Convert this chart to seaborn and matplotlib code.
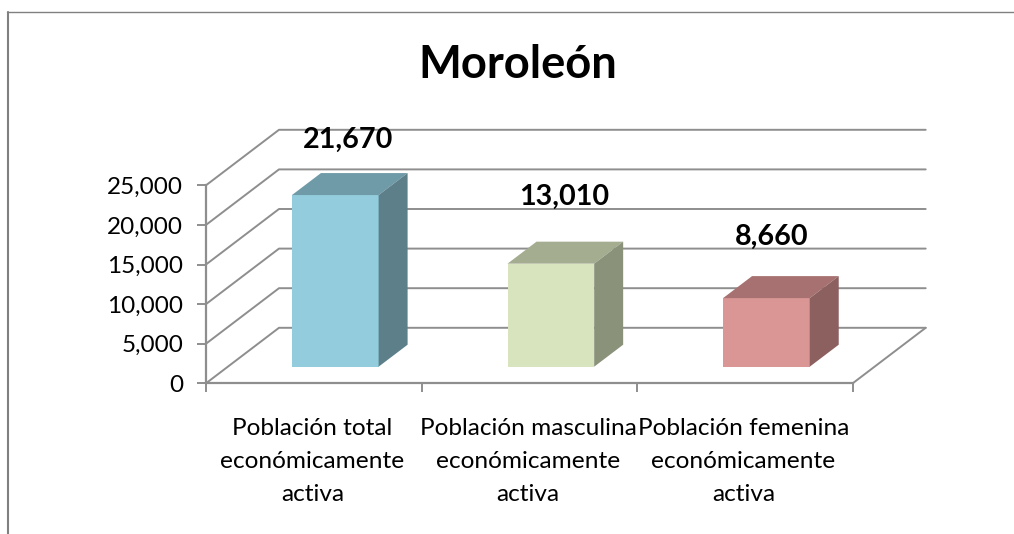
import matplotlib
matplotlib.use("Agg")
import matplotlib.pyplot as plt
from matplotlib.lines import Line2D
import pandas as pd
import seaborn as sns

# Data
categories = ["Población total\neconómicamente\nactiva",
              "Población masculina\neconómicamente\nactiva",
              "Población femenina\neconómicamente\nactiva"]
values = [21670, 13010, 8660]
value_labels = ["21,670", "13,010", "8,660"]
y_ticks = [0, 5000, 10000, 15000, 20000, 25000]
y_tick_labels = ["0", "5,000", "10,000", "15,000", "20,000", "25,000"]

# Colours per bar
front_colors = ["#93CDDD", "#D7E4BD", "#D99694"]
top_colors = ["#6F9AA7", "#A4AD90", "#A67170"]
side_colors = ["#5C7F8A", "#8A927A", "#8C605F"]
line_color = "#8E8E8E"

df = pd.DataFrame({"cat": categories, "val": values})

sns.set_style("white")
plt.rcParams["font.family"] = ["Lato", "DejaVu Sans"]

W, H = 1014, 534
fig = plt.figure(figsize=(W / 100, H / 100), dpi=100)

# Axes box is the front face of the fake 3D chart
left, right, top, bottom = 206, 852.7, 185.3, 383.3
ax = fig.add_axes([left / W, 1 - bottom / H, (right - left) / W, (bottom - top) / H])

sns.barplot(data=df, x="cat", y="val", hue="cat", palette=front_colors, saturation=1,
            width=0.402, dodge=False, legend=False, ax=ax, zorder=3, linewidth=0)

ax.set_xlim(-0.5, 2.5)
ax.set_ylim(0, 25000)

# Oblique depth, in data units
wall_dx, wall_dy = 0.3386, 7008
bar_shift_x, bar_base = 0.0997, 2096
bar_dx, bar_dy = 0.1345, 2778

# Back wall and left wall
for v in y_ticks:
    ax.plot([-0.5, -0.5 + wall_dx, 2.5 + wall_dx], [v, v + wall_dy, v + wall_dy],
            color=line_color, lw=1.4, clip_on=False, zorder=1)
ax.plot([2.5, 2.5 + wall_dx], [0, wall_dy], color=line_color, lw=1.4, clip_on=False, zorder=1)

# Shift bars to mid depth and add top and side faces
for i, p in enumerate(ax.patches):
    p.set_x(p.get_x() + bar_shift_x)
    p.set_y(bar_base)
    p.set_clip_on(False)
    x0 = p.get_x()
    x1 = x0 + p.get_width()
    y0 = bar_base
    y1 = bar_base + p.get_height()
    ax.fill([x0, x1, x1 + bar_dx, x0 + bar_dx], [y1, y1, y1 + bar_dy, y1 + bar_dy],
            color=top_colors[i], lw=0, clip_on=False, zorder=3)
    ax.fill([x1, x1 + bar_dx, x1 + bar_dx, x1], [y0, y0 + bar_dy, y1 + bar_dy, y1],
            color=side_colors[i], lw=0, clip_on=False, zorder=3)

# Value labels, placed by hand like in the original
label_dx = [0.159, 0.16, 0.124]
label_dy = [9050, 10510, 9800]
for i, txt in enumerate(value_labels):
    ax.text(i + label_dx[i], values[i] + label_dy[i], txt, ha="center", va="center",
            fontsize=20.7, fontweight="bold", color="black", zorder=5, clip_on=False)

ax.set_xlabel("")
ax.set_ylabel("")
ax.set_yticks(y_ticks)
ax.set_yticklabels(y_tick_labels, fontsize=17.5, color="black")
ax.set_xticks([-0.5, 0.5, 1.5, 2.5], labels=["", "", "", ""])
ax.tick_params(axis="both", which="major", length=6.5, width=1.4, color=line_color,
               left=True, bottom=True, pad=10)

# Category labels sit between the ticks
for i, c in enumerate(categories):
    ax.annotate(c, (i, 0), xytext=(-1, -25), textcoords="offset points", ha="center", va="top",
                fontsize=17.6, linespacing=1.7, color="black", annotation_clip=False)

for s in ["top", "right"]:
    ax.spines[s].set_visible(False)
for s in ["left", "bottom"]:
    ax.spines[s].set_color(line_color)
    ax.spines[s].set_linewidth(1.6)

fig.suptitle("Moroleón", x=518 / W, y=1 - 65 / H, va="center", fontsize=32.7,
             fontweight="bold", color="black")

# Outer chart border, cropped on the right and bottom
fig.add_artist(Line2D([7.5 / W, 7.5 / W], [0, 1 - 12 / H], color="#808080", lw=1.5))
fig.add_artist(Line2D([7 / W, 1], [1 - 12 / H, 1 - 12 / H], color="#808080", lw=1.0))

fig.savefig("out.png", dpi=100)
